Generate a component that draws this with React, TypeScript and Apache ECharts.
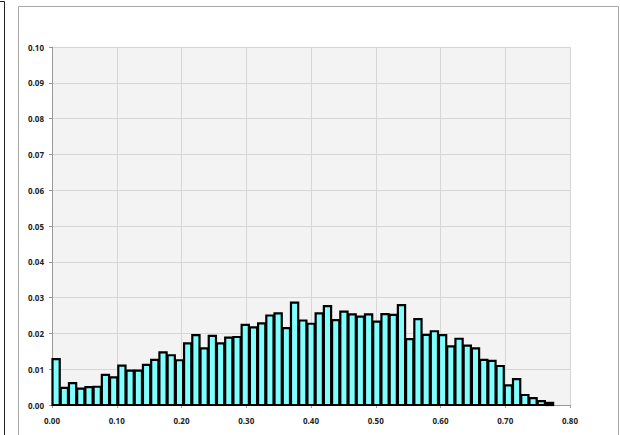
import React, { useEffect, useRef } from "react";
import * as echarts from "echarts";

// Histogram bin width (x units) and bin heights, left to right starting at 0
const BIN_WIDTH = 0.0127;
const binValues = [
  0.0128, 0.0048, 0.0061, 0.0046, 0.005, 0.0051, 0.0084, 0.0077,
  0.011, 0.0096, 0.0096, 0.0112, 0.0126, 0.0147, 0.0139, 0.0125,
  0.0172, 0.0195, 0.0158, 0.0193, 0.0172, 0.0188, 0.019, 0.0224,
  0.0217, 0.0228, 0.025, 0.0256, 0.0215, 0.0286, 0.0236, 0.0227,
  0.0256, 0.0276, 0.0237, 0.0261, 0.0253, 0.0247, 0.0253, 0.0233,
  0.0254, 0.0252, 0.0279, 0.0184, 0.024, 0.0196, 0.0206, 0.0195,
  0.0164, 0.0185, 0.0166, 0.0158, 0.0126, 0.0123, 0.0109, 0.0055,
  0.0072, 0.0028, 0.0019, 0.0011, 0.0006,
];
const xRange = [0, 0.8];
const xStep = 0.1;
const yRange = [0, 0.1];
const yStep = 0.01;

export default function App() {
  const ref = useRef<HTMLDivElement>(null);
  useEffect(() => {
    if (!ref.current) return;
    const chart = echarts.init(ref.current, null, { renderer: "svg" });
    const data = binValues.map((v, i) => [i * BIN_WIDTH, (i + 1) * BIN_WIDTH, v]);
    const labelStyle = {
      fontFamily: "Noto Sans",
      fontSize: 8,
      fontWeight: "bold" as const,
      color: "#222",
    };
    chart.setOption({
      animation: false,
      backgroundColor: "#ffffff",
      graphic: [
        {
          type: "polyline",
          shape: { points: [[0, 1.5], [4.5, 1.5], [4.5, 440]] },
          style: { stroke: "#222", lineWidth: 1, fill: "none" },
          z: -1,
        },
        {
          type: "rect",
          shape: { x: 18.5, y: 6.5, width: 600, height: 500 },
          style: { stroke: "#aaaaaa", lineWidth: 1, fill: "none" },
          z: -1,
        },
      ],
      grid: {
        left: 52,
        top: 47,
        right: 50,
        bottom: 30,
        show: true,
        backgroundColor: "#f3f3f3",
        borderWidth: 0,
      },
      xAxis: {
        type: "value",
        min: xRange[0],
        max: xRange[1],
        interval: xStep,
        axisLine: { show: true, onZero: false, lineStyle: { color: "#999", width: 1 } },
        axisTick: { show: true, length: 3, lineStyle: { color: "#999" } },
        axisLabel: { ...labelStyle, margin: 11, formatter: (v: number) => v.toFixed(2) },
        splitLine: { show: true, lineStyle: { color: "#d6d6d6", width: 1 } },
      },
      yAxis: {
        type: "value",
        min: yRange[0],
        max: yRange[1],
        interval: yStep,
        axisLine: { show: true, lineStyle: { color: "#999", width: 1 } },
        axisTick: { show: true, length: 3, lineStyle: { color: "#999" } },
        axisLabel: { ...labelStyle, margin: 8, formatter: (v: number) => v.toFixed(2) },
        splitLine: { show: true, lineStyle: { color: "#d6d6d6", width: 1 } },
      },
      series: [
        {
          type: "custom",
          encode: { x: [0, 1], y: 2 },
          data,
          renderItem: (params: any, api: any) => {
            const start = api.value(0);
            const end = api.value(1);
            const v = api.value(2);
            const p0 = api.coord([start, v]);
            const p1 = api.coord([end, 0]);
            return {
              type: "rect",
              shape: {
                x: p0[0] + 0.5,
                y: p0[1],
                width: p1[0] - p0[0] - 1,
                height: p1[1] - p0[1],
              },
              style: { fill: "#80ffff", stroke: "#000", lineWidth: 2.2 },
            };
          },
        },
      ],
    });
    return () => chart.dispose();
  }, []);
  return (
    <div
      ref={ref}
      style={{ position: "absolute", left: 0, top: 0, width: 620, height: 435 }}
    />
  );
}
